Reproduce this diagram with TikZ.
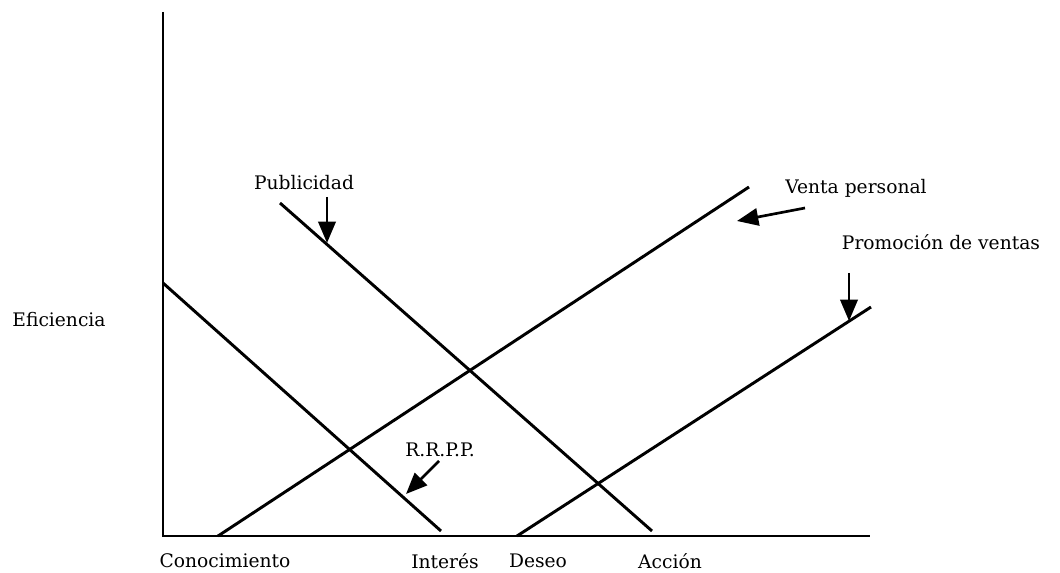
\documentclass[tikz,border=0pt]{standalone}
\usepackage{fontspec}
\setmainfont{DejaVu Serif}
\usetikzlibrary{arrows.meta}
\tikzset{
  curve/.style={line width=2.2pt},
  pointer/.style={line width=2pt, -{Triangle[length=16pt,width=13pt]}},
  lbl/.style={font=\fontsize{14}{16}\selectfont, inner sep=0pt}
}
\begin{document}
\begin{tikzpicture}[x=0.75pt, y=-0.75pt]
\useasboundingbox (0,0) rectangle (1060,573);
% axes
\coordinate (top) at (163,12);
\coordinate (orig) at (163,536);
\coordinate (xend) at (870,536);
\draw[curve] (top) -- (orig) -- (xend);
% lines
\coordinate (rp0) at (163,283);
\coordinate (rp1) at (441,531);
\coordinate (pu0) at (280,203);
\coordinate (pu1) at (652,531);
\coordinate (vp0) at (218,536);
\coordinate (vp1) at (749,187);
\coordinate (pv0) at (517,536);
\coordinate (pv1) at (871,307);
\draw[curve] (rp0) -- (rp1);
\draw[curve] (pu0) -- (pu1);
\draw[curve] (vp0) -- (vp1);
\draw[curve] (pv0) -- (pv1);
% labels
\node[lbl] (efi) at (59,320) {Eficiencia};
\node[lbl] (pub) at (304,183) {Publicidad};
\node[lbl] (ven) at (856,188) {Venta personal};
\node[lbl] (pro) at (941,242) {Promoción de ventas};
\node[lbl] (rrpp) at (440,450) {R.R.P.P.};
\node[lbl] (con) at (225,561) {Conocimiento};
\node[lbl] (int) at (445,561) {Interés};
\node[lbl] (des) at (538,561) {Deseo};
\node[lbl] (acc) at (670,561) {Acción};
% arrows
\coordinate (pua) at (327,197);
\coordinate (pub1) at (327,243);
\coordinate (vea) at (805,208);
\coordinate (veb) at (737,221);
\coordinate (pra) at (849,273);
\coordinate (prb) at (849,321);
\coordinate (rra) at (439,461);
\coordinate (rrb) at (406,494);
\draw[pointer] (pua) -- (pub1);
\draw[pointer] (vea) -- (veb);
\draw[pointer] (pra) -- (prb);
\draw[pointer] (rra) -- (rrb);
\end{tikzpicture}
\end{document}
